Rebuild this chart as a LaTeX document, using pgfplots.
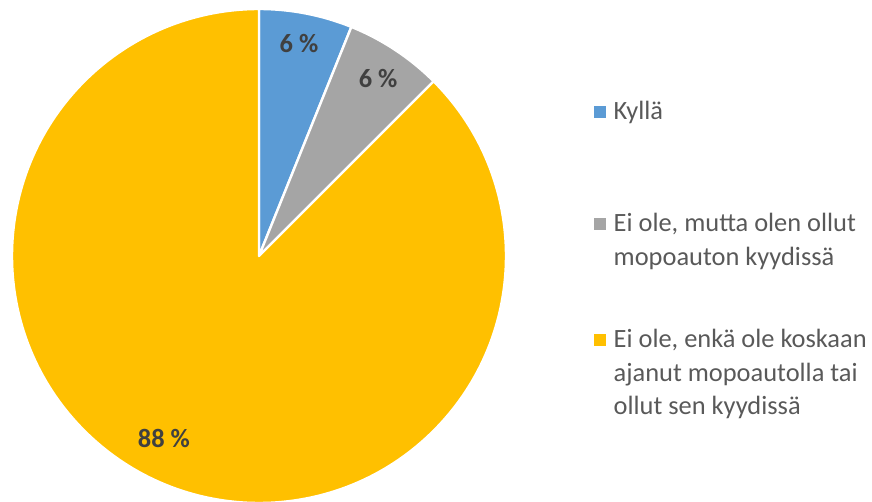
\documentclass[border=0pt]{standalone}
\usepackage{fontspec}
\setmainfont{Carlito}
\usepackage{pgfplots}
\usepackage{pgfplotstable}
\pgfplotsset{compat=1.18}
\definecolor{pieblue}{HTML}{5B9BD5}
\definecolor{piegray}{HTML}{A5A5A5}
\definecolor{pieyellow}{HTML}{FFC000}
\definecolor{labelgray}{HTML}{404040}
\definecolor{legendgray}{HTML}{595959}
% shares of the pie (percent), clockwise from 12 o'clock
\pgfplotstableread{
share
6.1
6.4
87.5
}\piedata
% data labels: position (axis units) and shown value
\pgfplotstableread{
x y v
0.162 0.862 6
0.482 0.717 6
-0.385 -0.737 88
}\labeldata
\begin{document}%
\begin{tikzpicture}
\pgfplotstablegetelem{0}{share}\of\piedata \let\sA\pgfplotsretval
\pgfplotstablegetelem{1}{share}\of\piedata \let\sB\pgfplotsretval
\pgfplotstablegetelem{2}{share}\of\piedata \let\sC\pgfplotsretval
\pgfmathsetmacro\aA{90}
\pgfmathsetmacro\aB{\aA-3.6*\sA}
\pgfmathsetmacro\aC{\aB-3.6*\sB}
\pgfmathsetmacro\aD{\aC-3.6*\sC}
\begin{axis}[
  at={(129.5pt,123pt)}, anchor=center,
  scale only axis, width=247pt, height=247pt,
  xmin=-1, xmax=1, ymin=-1, ymax=1,
  hide axis, clip=false,
  /pgf/number format/assume math mode=true,
  legend style={
    at={(axis description cs:1.178,0.816)}, anchor=north west,
    draw=none, fill=none, inner sep=0pt, outer sep=0pt,
    row sep=0pt, column sep=4.2pt,
    font=\fontsize{13.2}{16.75}\selectfont,
    text=legendgray,
    nodes={inner sep=0pt, text height=, text depth=},
    cells={anchor=base west},
  },
  legend image code/.code={\fill[#1] (0pt,1.35pt) rectangle (5.3pt,6.65pt);},
]
\fill[pieblue, draw=white, line width=1.2pt, line join=round]
  (axis cs:0,0) -- (axis cs:{cos(\aA)},{sin(\aA)}) arc[start angle=\aA, end angle=\aB, radius=123.5pt] -- cycle;
\fill[piegray, draw=white, line width=1.2pt, line join=round]
  (axis cs:0,0) -- (axis cs:{cos(\aB)},{sin(\aB)}) arc[start angle=\aB, end angle=\aC, radius=123.5pt] -- cycle;
\fill[pieyellow, draw=white, line width=1.2pt, line join=round]
  (axis cs:0,0) -- (axis cs:{cos(\aC)},{sin(\aC)}) arc[start angle=\aC, end angle=\aD, radius=123.5pt] -- cycle;
\addplot[draw=none, mark=none, forget plot, point meta=explicit,
  nodes near coords={\pgfmathprintnumber{\pgfplotspointmeta}~\%},
  every node near coord/.append style={anchor=center, font=\fontsize{13.2}{16}\selectfont\bfseries, text=labelgray}]
  table[x=x, y=y, meta=v] {\labeldata};
\addlegendimage{pieblue}
\addlegendentry{\parbox[t]{128pt}{\raggedright\rule{0pt}{10pt}Kyllä\rule[-46pt]{0pt}{46pt}}}
\addlegendimage{piegray}
\addlegendentry{\parbox[t]{128pt}{\raggedright\rule{0pt}{10pt}Ei ole, mutta olen ollut\\mopoauton kyydissä\rule[-31.25pt]{0pt}{31.25pt}}}
\addlegendimage{pieyellow}
\addlegendentry{\parbox[t]{128pt}{\raggedright\rule{0pt}{10pt}Ei ole, enkä ole koskaan\\ajanut mopoautolla tai\\ollut sen kyydissä}}
\end{axis}
\pgfresetboundingbox
\useasboundingbox (0,0) rectangle (436pt,251pt);
\end{tikzpicture}%
\end{document}
